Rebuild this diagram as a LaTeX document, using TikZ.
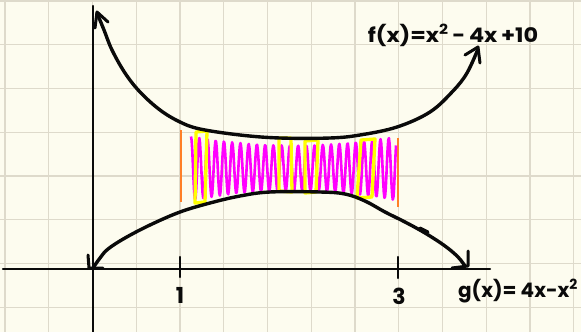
\documentclass[tikz,border=0pt]{standalone}
\usepackage{fontspec}
\setmainfont{Poppins}
\usetikzlibrary{arrows.meta}
\definecolor{paper}{HTML}{FDFCEF}
\definecolor{gridc}{HTML}{DEDACB}
\definecolor{pen}{HTML}{0A0A0A}
\definecolor{orng}{HTML}{FF7F27}
\definecolor{mag}{HTML}{FF00FF}
\definecolor{yel}{HTML}{FFFF00}
\tikzset{
  gridline/.style={gridc, line width=1.3pt},
  axisline/.style={pen, line width=2.4pt, line cap=round},
  curveline/.style={pen, line width=3.4pt, line cap=round, line join=round},
  barb/.style={pen, line width=3pt, line cap=round, line join=round},
  orangeline/.style={orng, line width=2.8pt},
  wave/.style={mag, line width=2.6pt, line join=round},
  yelbox/.style={yel, line width=3.3pt, line join=round},
  handlabel/.style={inner sep=0pt, font=\fontsize{20}{22}\selectfont\bfseries, text=pen},
}
\begin{document}
\begin{tikzpicture}[x=1pt,y=-1pt]
\useasboundingbox (0,0) rectangle (581,332);
\fill[paper] (0,0) rectangle (581,332);
% grid
\foreach \k in {0,...,13} \draw[gridline] ({5+43.75*\k},0) -- ({5+43.75*\k},332);
\foreach \k in {0,...,7} \draw[gridline] (0,{1+43.75*\k}) -- (581,{1+43.75*\k});
% axes
\coordinate (ytop) at (93,6);
\coordinate (ybot) at (93,332);
\coordinate (xl) at (3,269);
\coordinate (xr) at (490,269);
\draw[axisline] (ytop) -- (ybot);
\draw[axisline] (xl) -- (xr);
% ticks
\draw[axisline] (180,257) -- (180,277);
\draw[axisline] (398,257) -- (398,278);
\node[handlabel, font=\fontsize{22}{24}\selectfont\bfseries] (one) at (180,295) {1};
\node[handlabel, font=\fontsize{22}{24}\selectfont\bfseries] (three) at (399,296) {3};
% orange bounds
\draw[orangeline] (181,130) -- (181,202);
\draw[orangeline] (398,138) -- (398,207);
% magenta wave
\draw[wave] plot[domain=191:396, samples=320, variable=\t]
  ({\t}, {168+0.5*((\t-294)/103)^2 - (22.5+9.5*((\t-294)/103)^2)*cos(43.69*(\t-191))});
% yellow boxes
\draw[yelbox] (196,132) -- (207,131) -- (205,202) -- (195,203) -- cycle;
\draw[yelbox] (279,138) -- (291,138) -- (292,192) -- (279,191) -- cycle;
\draw[yelbox] (305,141) -- (318,140) -- (316,192) -- (305,193) -- cycle;
\draw[yelbox] (361,140) -- (375,139) -- (372,197) -- (357,198) -- cycle;
% f curve
\draw[curveline] plot[smooth, tension=0.6] coordinates {(97,13) (104,30) (112,50) (125,73) (140,92) (160,110) (180,122) (200,129) (240,135) (280,138) (330,138) (360,135) (397,127) (430,112) (453,91) (467,73) (478,49)};
\draw[barb] (108,22) -- (97,12) -- (95,28);
\draw[barb] (465,55) -- (478,47) -- (480,63);
% g curve
\draw[curveline] plot[smooth, tension=0.6] coordinates {(93,268) (100,258) (108,249) (125,238) (150,225) (180,212) (210,203) (240,196) (270,192) (320,192) (345,194) (365,201) (385,212) (405,222) (425,233) (445,246) (458,257) (465,266)};
\draw[barb] (88,255) -- (89,268) -- (103,268);
\draw[barb] (420,228) -- (428,232);
\draw[barb] (468,251) -- (468,266) -- (452,268);
% labels
\node[handlabel, anchor=base] (flabel) at (453,42) {\scalebox{1.12}[1]{f(x)=x\textsuperscript{2}\,-\,4x\,+10}};
\node[handlabel, anchor=base] (glabel) at (518,297) {g(x)= 4x-x\textsuperscript{2}};
\end{tikzpicture}
\end{document}
